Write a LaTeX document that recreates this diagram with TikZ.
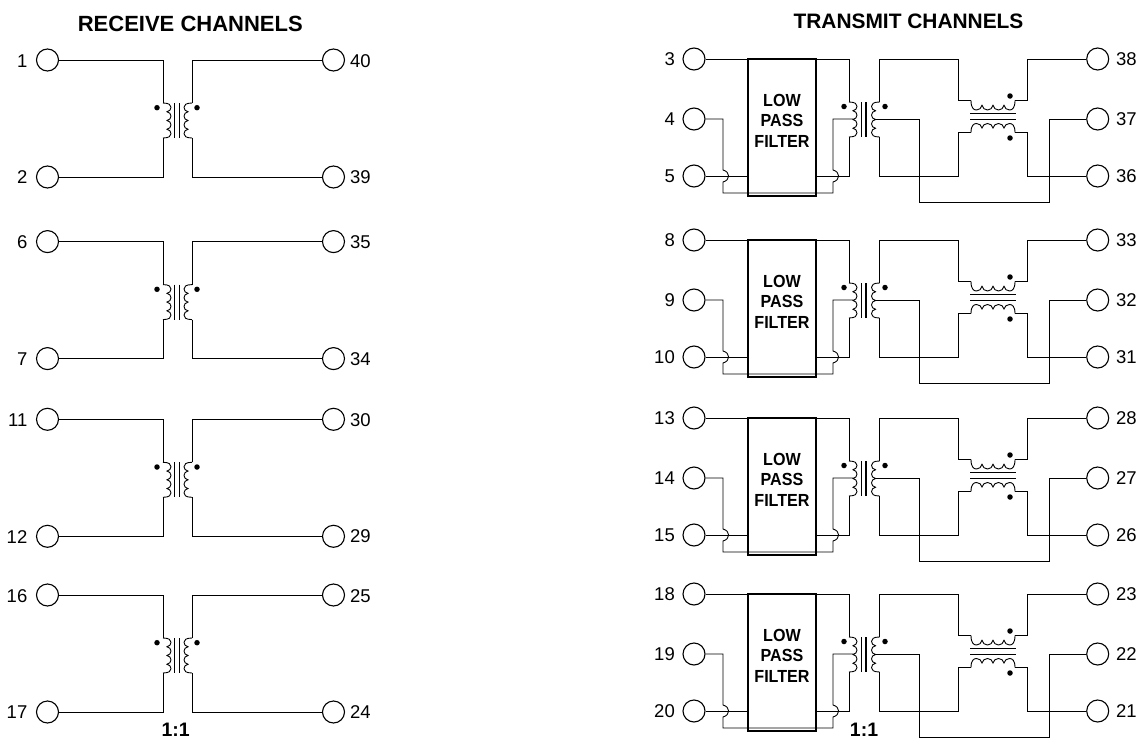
\documentclass[tikz,border=0pt]{standalone}
\usepackage{fontspec}
\setmainfont{Liberation Sans}
\newfontfamily\lpfont[FakeStretch=0.92]{Liberation Sans}
\tikzset{
  pinc/.style={circle,draw,line width=1.1pt,minimum size=22pt,inner sep=0pt,fill=white},
  plabel/.style={font=\fontsize{18.5}{20}\selectfont,inner sep=0pt},
  ratio/.style={font=\fontsize{19.5}{20}\selectfont\bfseries,inner sep=0pt},
  wire/.style={line width=0.9pt,line join=miter},
  corel/.style={line width=1.4pt},
  filterbox/.style={draw,line width=1.6pt,minimum width=68pt,minimum height=137pt,inner sep=0pt},
  filtertext/.style={inner sep=0pt,align=center,font=\fontsize{17.5}{20.5}\selectfont\lpfont\bfseries},
  dotm/.style={circle,fill,inner sep=0pt,minimum size=5.5pt},
}
\newcommand\coilpath{%
  \draw[wire] (0,0) .. controls (0,.8) and (.25,1) .. (.5,1)
    .. controls (.75,1) and (.95,.8) .. (1,.5)
    .. controls (1.05,.8) and (1.25,1) .. (1.5,1)
    .. controls (1.75,1) and (1.95,.8) .. (2,.5)
    .. controls (2.05,.8) and (2.25,1) .. (2.5,1)
    .. controls (2.75,1) and (2.95,.8) .. (3,.5)
    .. controls (3.05,.8) and (3.25,1) .. (3.5,1)
    .. controls (3.75,1) and (4,.8) .. (4,0);}
\newcommand\RxRow[5]{%
\begin{scope}[shift={(0,#1)}]
  \node[pinc] (p#2) at (47.5,0) {};
  \node[pinc] (p#3) at (47.5,117) {};
  \node[pinc] (p#4) at (333.5,0) {};
  \node[pinc] (p#5) at (333.5,117) {};
  \node[plabel,anchor=east] (t#2) at (27.5,0.8) {#2};
  \node[plabel,anchor=east] (t#3) at (27.5,117.3) {#3};
  \node[plabel,anchor=west] (t#4) at (350,0.8) {#4};
  \node[plabel,anchor=west] (t#5) at (350,117.3) {#5};
  \coordinate (a#2) at (163,43); \coordinate (b#2) at (163,78);
  \coordinate (a#4) at (192,43); \coordinate (b#4) at (192,78);
  \begin{scope}[shift={(a#2)},x={(0pt,-8.75pt)},y={(8pt,0pt)}]\coilpath\end{scope}
  \begin{scope}[shift={(a#4)},x={(0pt,-8.75pt)},y={(-8pt,0pt)}]\coilpath\end{scope}
  \draw[corel] (174.3,43) -- (174.3,78);
  \draw[corel] (179.3,43) -- (179.3,78);
  \node[dotm] (d#2) at (157,47.7) {};
  \node[dotm] (d#4) at (197,47.7) {};
  \draw[wire] (p#2) -| (a#2);
  \draw[wire] (p#3) -| (b#2);
  \draw[wire] (p#4) -| (a#4);
  \draw[wire] (p#5) -| (b#4);
\end{scope}}
\newcommand\TxRow[7]{%
\begin{scope}[shift={(0,#1)}]
  \node[pinc] (p#2) at (694,0) {};
  \node[pinc] (p#3) at (694,60) {};
  \node[pinc] (p#4) at (694,117) {};
  \node[pinc] (p#5) at (1097.7,0) {};
  \node[pinc] (p#6) at (1097.7,60) {};
  \node[pinc] (p#7) at (1097.7,117) {};
  \node[plabel,anchor=east] (t#2) at (675,0.5) {#2};
  \node[plabel,anchor=east] (t#3) at (675,60) {#3};
  \node[plabel,anchor=east] (t#4) at (675,117.5) {#4};
  \node[plabel,anchor=west] (t#5) at (1116,0.5) {#5};
  \node[plabel,anchor=west] (t#6) at (1116,60) {#6};
  \node[plabel,anchor=west] (t#7) at (1116,117.5) {#7};
  \node[filterbox] (f#2) at (782,68.5) {};
  \node[filtertext] (ft#2) at (782,61.5) {LOW\\PASS\\FILTER};
  % primary / secondary of the first transformer
  \coordinate (a#2) at (849,43); \coordinate (b#2) at (849,78); \coordinate (tl#2) at (853,60);
  \coordinate (a#5) at (879.5,43); \coordinate (b#5) at (879.5,78); \coordinate (tr#5) at (875.5,60);
  \begin{scope}[shift={(a#2)},x={(0pt,-8.75pt)},y={(8pt,0pt)}]\coilpath\end{scope}
  \begin{scope}[shift={(a#5)},x={(0pt,-8.75pt)},y={(-8pt,0pt)}]\coilpath\end{scope}
  \draw[corel] (861.7,43) -- (861.7,78);
  \draw[corel] (865.9,43) -- (865.9,78);
  \node[dotm] (d#2) at (844,47.5) {};
  \node[dotm] (d#5) at (885,47.5) {};
  % common-mode choke
  \coordinate (u#2) at (971,41.5); \coordinate (v#2) at (1015,41.5);
  \coordinate (w#2) at (971,73.5); \coordinate (z#2) at (1015,73.5);
  \begin{scope}[shift={(u#2)},x={(11pt,0pt)},y={(0pt,-9.5pt)}]\coilpath\end{scope}
  \begin{scope}[shift={(w#2)},x={(11pt,0pt)},y={(0pt,9pt)}]\coilpath\end{scope}
  \draw[corel,line width=1.6pt] (970,54.5) -- (1015.5,54.5);
  \draw[corel,line width=1.6pt] (970,60.5) -- (1015.5,60.5);
  \node[dotm] (e#2) at (1010,37) {};
  \node[dotm] (g#2) at (1010,79) {};
  % wires
  \draw[wire] (p#2) -- (p#2 -| f#2.west);
  \draw[wire] (p#4) -- (p#4 -| f#2.west);
  \draw[wire] (f#2.east |- p#2) -| (a#2);
  \draw[wire] (b#2) |- (f#2.east |- p#4);
  \coordinate (ja#2) at (723,111); \coordinate (jb#2) at (723,123); \coordinate (lc#2) at (723,134);
  \coordinate (ka#2) at (833,123); \coordinate (kb#2) at (833,111); \coordinate (ld#2) at (833,134);
  \draw[wire] (p#3) -| (ja#2) .. controls (730.5,113) and (730.5,121) .. (jb#2) -- (lc#2) -- (ld#2) -- (ka#2)
     .. controls (840.5,121) and (840.5,113) .. (kb#2) |- (tl#2);
  \coordinate (m#2) at (958,0); \coordinate (n#2) at (958,117);
  \coordinate (q#2) at (1027,0); \coordinate (r#2) at (1027,117);
  \draw[wire] (a#5) |- (m#2) |- (u#2);
  \draw[wire] (b#5) |- (n#2) |- (w#2);
  \draw[wire] (v#2) -| (q#2) -- (p#5);
  \draw[wire] (z#2) -| (r#2) -- (p#7);
  \coordinate (s#2) at (919,143); \coordinate (s2#2) at (1049,143);
  \draw[wire] (tr#5) -| (s#2) -- (s2#2) |- (p#6);
\end{scope}}
\begin{document}
\begin{tikzpicture}[x=1pt,y=-1pt]
  \useasboundingbox (0,0) rectangle (1141,739);
  \node[inner sep=0pt,font=\fontsize{22}{24}\selectfont\bfseries] (rxt) at (190.3,24) {RECEIVE CHANNELS};
  \node[inner sep=0pt,font=\fontsize{20.9}{24}\selectfont\bfseries] (txt) at (908.5,21) {TRANSMIT CHANNELS};
  \RxRow{60}{1}{2}{40}{39}
  \RxRow{241.6}{6}{7}{35}{34}
  \RxRow{419.3}{11}{12}{30}{29}
  \RxRow{595}{16}{17}{25}{24}
  \TxRow{59}{3}{4}{5}{38}{37}{36}
  \TxRow{240}{8}{9}{10}{33}{32}{31}
  \TxRow{418}{13}{14}{15}{28}{27}{26}
  \TxRow{594}{18}{19}{20}{23}{22}{21}
  \node[ratio] (rx) at (175.7,729.5) {1:1};
  \node[ratio] (tx) at (864,729.5) {1:1};
\end{tikzpicture}
\end{document}
